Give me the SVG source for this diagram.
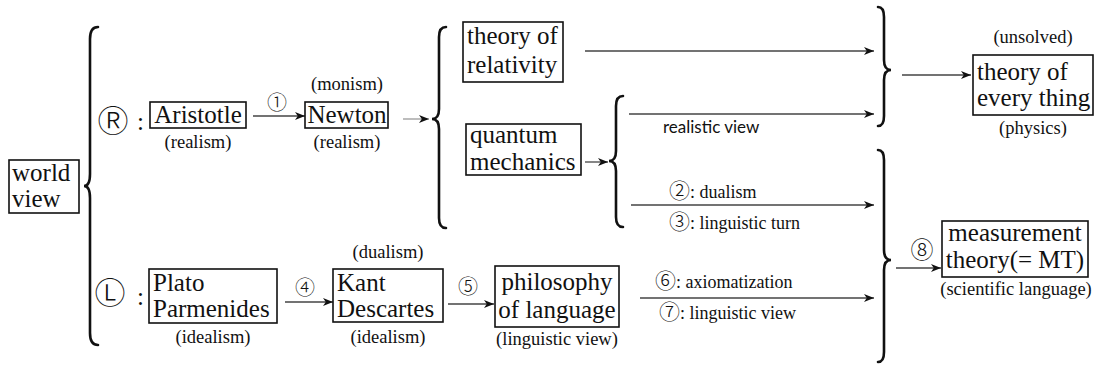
<svg xmlns="http://www.w3.org/2000/svg" width="1100" height="370" viewBox="0 0 1100 370">
<style>
.box{fill:none;stroke:#111;stroke-width:1.6}
.big{font-family:"Liberation Serif","Times New Roman","DejaVu Serif",serif;font-size:25px;fill:#111}
.sm{font-family:"Liberation Serif","Times New Roman","DejaVu Serif",serif;font-size:18.5px;fill:#111}
.lab{font-family:"Liberation Serif","Times New Roman","DejaVu Serif",serif;font-size:18px;fill:#111}
.sans{font-family:Lato,"Liberation Sans",sans-serif;font-size:17px;fill:#111}
.circ{font-family:"Noto Sans CJK JP","DejaVu Sans",sans-serif;font-weight:300;fill:#111}
.brace{fill:none;stroke:#111;stroke-width:2.6;stroke-linecap:round}
.arr{fill:none;stroke:#444;stroke-width:1.3;marker-end:url(#ah)}
.arrl{fill:none;stroke:#999;stroke-width:1.3;marker-end:url(#ah)}
</style>
<defs>
<marker id="ah" markerUnits="userSpaceOnUse" markerWidth="11" markerHeight="9" refX="10" refY="4.5" orient="auto">
<path d="M0,0.5 L10,4.5 L0,8.5 L2.8,4.5 z" fill="#111"/>
</marker>
</defs>
<rect width="1100" height="370" fill="#fff"/>

<g id="connectors">
<path class="brace" d="M98,27 Q90,27 90,39 L90,174 Q90,186 84,186 Q90,186 90,198 L90,333 Q90,345 98,345"/>
<path class="brace" d="M446,27 Q439,27 439,37 L439,109 Q439,119 432,119 Q439,119 439,129 L439,218 Q439,228 446,228"/>
<path class="brace" d="M623,96 Q616,96 616,106 L616,151 Q616,161 609,161 Q616,161 616,171 L616,217 Q616,227 623,227"/>
<path class="brace" d="M878,7 Q884,7 884,17 L884,60 Q884,70 891,70 Q884,70 884,80 L884,116 Q884,126 878,126"/>
<path class="brace" d="M878,150 Q884,150 884,160 L884,250 Q884,260 891,260 Q884,260 884,270 L884,352 Q884,362 878,362"/>
<line class="arr" x1="253" y1="116" x2="305" y2="116"/>
<line class="arrl" x1="403" y1="119" x2="429" y2="119"/>
<line class="arr" x1="585" y1="51" x2="874" y2="51"/>
<line class="arr" x1="629" y1="114" x2="874" y2="114"/>
<line class="arr" x1="585" y1="162" x2="608" y2="162"/>
<line class="arr" x1="631" y1="205" x2="874" y2="205"/>
<line class="arr" x1="902" y1="75" x2="971" y2="75"/>
<line class="arr" x1="640" y1="298" x2="874" y2="298"/>
<line class="arr" x1="896" y1="268" x2="941" y2="268"/>
<line class="arr" x1="285" y1="302" x2="333" y2="302"/>
<line class="arr" x1="448" y1="304" x2="494" y2="304"/>
<text class="circ" x="277" y="110" font-size="20" text-anchor="middle">①</text>
<text class="circ" x="305" y="295" font-size="20" text-anchor="middle">④</text>
<text class="circ" x="468" y="294" font-size="20" text-anchor="middle">⑤</text>
<text class="circ" x="922" y="258" font-size="23" text-anchor="middle">⑧</text>
<text class="sans" x="663" y="133">realistic view</text>
<text class="lab" x="669" y="198"><tspan class="circ" font-size="21">②</tspan>: dualism</text>
<text class="lab" x="669" y="229"><tspan class="circ" font-size="21">③</tspan>: linguistic turn</text>
<text class="lab" x="655" y="288"><tspan class="circ" font-size="21">⑥</tspan>: axiomatization</text>
<text class="lab" x="659" y="319"><tspan class="circ" font-size="21">⑦</tspan>: linguistic view</text>
</g>

<g id="worldview">
<rect class="box" x="9" y="160" width="70" height="53"/>
<text class="big" x="12" y="181">world</text>
<text class="big" x="12" y="207">view</text>
</g>

<g id="realism-label">
<text class="circ" x="113" y="132" font-size="31" text-anchor="middle">Ⓡ</text>
<text class="big" x="137" y="130">:</text>
</g>
<g id="idealism-label">
<text class="circ" x="110" y="304" font-size="31" text-anchor="middle">Ⓛ</text>
<text class="big" x="137" y="305">:</text>
</g>

<g id="aristotle">
<rect class="box" x="150" y="102" width="96" height="26"/>
<text class="big" x="198" y="123" text-anchor="middle">Aristotle</text>
<text class="sm" x="198" y="148" text-anchor="middle">(realism)</text>
</g>

<g id="newton">
<text class="sm" x="347" y="90" text-anchor="middle">(monism)</text>
<rect class="box" x="305" y="102" width="83" height="26"/>
<text class="big" x="347" y="123" text-anchor="middle">Newton</text>
<text class="sm" x="347" y="148" text-anchor="middle">(realism)</text>
</g>

<g id="relativity">
<rect class="box" x="463" y="22" width="100" height="60"/>
<text class="big" x="467" y="44">theory of</text>
<text class="big" x="467" y="73">relativity</text>
</g>

<g id="quantum">
<rect class="box" x="466" y="124" width="115" height="51"/>
<text class="big" x="470" y="143">quantum</text>
<text class="big" x="470" y="170">mechanics</text>
</g>

<g id="toe">
<text class="sm" x="1033" y="43" text-anchor="middle">(unsolved)</text>
<rect class="box" x="973" y="55" width="120" height="60"/>
<text class="big" x="977" y="80">theory of</text>
<text class="big" x="977" y="106">every thing</text>
<text class="sm" x="1033" y="134" text-anchor="middle">(physics)</text>
</g>

<g id="plato">
<rect class="box" x="149" y="269" width="128" height="54"/>
<text class="big" x="153" y="291">Plato</text>
<text class="big" x="153" y="317">Parmenides</text>
<text class="sm" x="213" y="343" text-anchor="middle">(idealism)</text>
</g>

<g id="kant">
<text class="sm" x="388" y="258" text-anchor="middle">(dualism)</text>
<rect class="box" x="333" y="269" width="110" height="53"/>
<text class="big" x="337" y="291">Kant</text>
<text class="big" x="337" y="317">Descartes</text>
<text class="sm" x="388" y="343" text-anchor="middle">(idealism)</text>
</g>

<g id="philosophy">
<rect class="box" x="495" y="266" width="124" height="61"/>
<text class="big" x="557" y="290" text-anchor="middle">philosophy</text>
<text class="big" x="557" y="318" text-anchor="middle">of language</text>
<text class="sm" x="557" y="345" text-anchor="middle">(linguistic view)</text>
</g>

<g id="mt">
<rect class="box" x="942" y="221" width="146" height="56"/>
<text class="big" x="1015" y="241" text-anchor="middle">measurement</text>
<text class="big" x="1015" y="268" text-anchor="middle">theory(= MT)</text>
<text class="sm" x="1016" y="295" text-anchor="middle">(scientific language)</text>
</g>
</svg>
